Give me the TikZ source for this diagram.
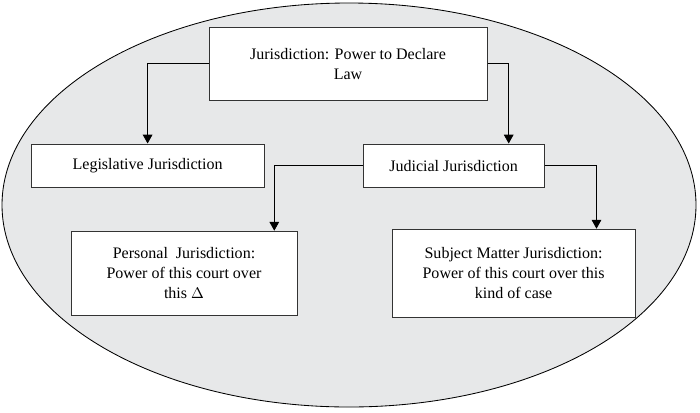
\documentclass[tikz,border=0pt]{standalone}
\usepackage{fontspec}
\setmainfont{Liberation Serif}
\usepackage{tikz}
\usetikzlibrary{arrows.meta, positioning}
\definecolor{ovalgray}{HTML}{E7E8E9}

\begin{document}
\begin{tikzpicture}[box/.style={draw=black!80, line width=0.7pt, fill=white, align=center,
                            font=\fontsize{11.4}{14.3}\selectfont, inner sep=2pt},
                    arr/.style={-{Triangle[length=0.22cm, width=0.24cm]}, line width=0.6pt}]
                \useasboundingbox (0,0) rectangle (17.5,-10.3);
                \draw[fill=ovalgray, line width=0.6pt] (8.725,-5.125) ellipse [x radius=8.675cm, y radius=5.05cm];
                \node[box, minimum width=6.95cm, minimum height=1.83cm] (law) at (8.7,-1.59)
                    {Jurisdiction: Power to Declare\\Law};
                \node[box, minimum width=5.83cm, minimum height=1.08cm] (leg) at (3.69,-4.14)
                    {Legislative Jurisdiction};
                \node[box, minimum width=4.53cm, minimum height=1.08cm] (jud) at (11.34,-4.14)
                    {Judicial Jurisdiction};
                \node[box, minimum width=5.65cm, minimum height=2.1cm] (pers) at (4.6,-6.83)
                    {Personal\ \ Jurisdiction:\\Power of this court over\\this $\Delta$};
                \node[box, minimum width=6.08cm, minimum height=2.2cm] (subj) at (12.84,-6.83)
                    {Subject Matter Jurisdiction:\\Power of this court over this\\kind of case};
                \draw[arr] (law.west) -| (leg.north);
                \draw[arr] (law.east) -| ([xshift=-0.9cm]jud.north east);
                \draw[arr] (jud.west) -| ([xshift=-0.58cm]pers.north east);
                \draw[arr] (jud.east) -| ([xshift=-0.98cm]subj.north east);
            \end{tikzpicture}
\end{document}
